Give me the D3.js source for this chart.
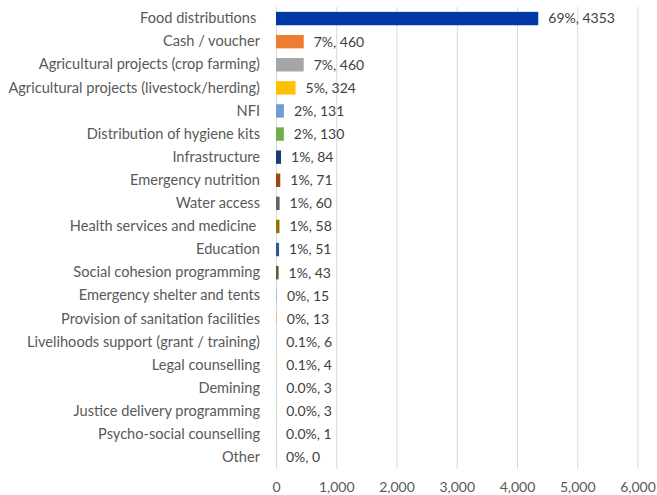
<!DOCTYPE html>
<html><head><meta charset="utf-8">
<script src="https://cdn.jsdelivr.net/npm/d3@7"></script>
<style>body{margin:0;background:#fff}svg{display:block}text{font-family:Lato,"Open Sans",sans-serif}</style>
</head><body><svg id="c" width="657" height="495"></svg>
<script>
const categories = ["Food distributions ","Cash / voucher","Agricultural projects (crop farming)","Agricultural projects (livestock/herding)","NFI","Distribution of hygiene kits","Infrastructure","Emergency nutrition","Water access","Health services and medicine ","Education","Social cohesion programming","Emergency shelter and tents","Provision of sanitation facilities","Livelihoods support (grant / training)","Legal counselling","Demining","Justice delivery programming","Psycho-social counselling","Other"];
const values = [4353,460,460,324,131,130,84,71,60,58,51,43,15,13,6,4,3,3,1,0];
const percents = ["69%","7%","7%","5%","2%","2%","1%","1%","1%","1%","1%","1%","0%","0%","0.1%","0.1%","0.0%","0.0%","0.0%","0%"];
const colors = ["#0039A6","#ED7D31","#A5A5A5","#FFC000","#6F9BD6","#70AD47","#1F3A78","#9E480E","#636363","#997300","#2F5597","#43682B","#9DB7E3","#F4B183","#C9C9C9","#FFD966","#A9C8EA","#A9D18E","#5A7EC0","#D0D0D0"];
const xTicks = [0,1000,2000,3000,4000,5000,6000];

const svg = d3.select("#c");
const m = {left:276, right:19.5, top:7, bottom:26};
const W = 657, H = 495;
const x = d3.scaleLinear().domain([0,6000]).range([m.left, W-m.right]);
const y = d3.scaleBand().domain(categories).range([m.top, H-m.bottom]).paddingInner(0.42).paddingOuter(0.21);

// gridlines
svg.append("g").selectAll("line").data(xTicks).join("line")
  .attr("x1",d=>x(d)+0.5).attr("x2",d=>x(d)+0.5)
  .attr("y1",m.top).attr("y2",H-m.bottom)
  .attr("stroke","#d9d9d9").attr("stroke-width",1);

// x axis labels
const xa = svg.append("g").attr("transform",`translate(0,${H-m.bottom})`)
  .call(d3.axisBottom(x).tickValues(xTicks).tickFormat(d3.format(",")).tickSize(0).tickPadding(13));
xa.select(".domain").remove();
xa.selectAll("text").attr("fill","#595959").attr("font-size",14).style("font-family","Lato,sans-serif");

// y axis labels
const ya = svg.append("g").attr("transform",`translate(${m.left},0)`)
  .call(d3.axisLeft(y).tickSize(0).tickPadding(16));
ya.select(".domain").remove();
ya.selectAll("text").attr("fill","#595959").attr("font-size",14.6).style("white-space","pre").attr("xml:space","preserve").style("font-family","Lato,sans-serif");

// bars
svg.append("g").selectAll("rect").data(values).join("rect")
  .attr("x",x(0)).attr("y",(d,i)=>y(categories[i]))
  .attr("width",d=>x(d)-x(0)).attr("height",y.bandwidth())
  .attr("fill",(d,i)=>colors[i]);

// data labels
svg.append("g").selectAll("text").data(values).join("text")
  .attr("x",d=>x(d)+10).attr("y",(d,i)=>y(categories[i])+y.bandwidth()/2)
  .attr("dy","0.35em").attr("fill","#404040").attr("font-size",14)
  .text((d,i)=>`${percents[i]}, ${d}`);
</script></body></html>
